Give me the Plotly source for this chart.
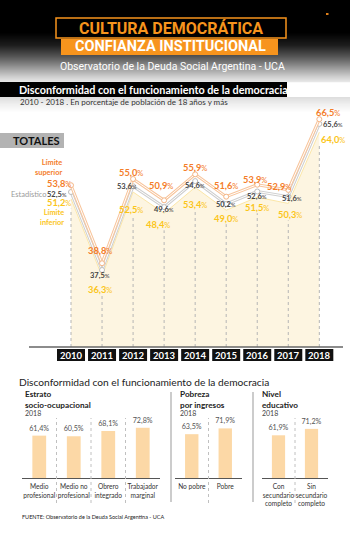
import plotly.graph_objects as go

W, H = 350, 534
def px(x): return x / W
def py(y): return 1 - y / H

# ---------------- data ----------------
years = [2010, 2011, 2012, 2013, 2014, 2015, 2016, 2017, 2018]
upper = [53.8, 38.8, 55.0, 50.9, 55.9, 51.6, 53.9, 52.9, 66.5]
central = [52.5, 37.5, 53.6, 49.6, 54.6, 50.2, 52.6, 51.6, 65.6]
lower = [51.2, 36.3, 52.5, 48.4, 53.4, 49.0, 51.5, 50.3, 64.0]

estrato_cats = ["Medio<br>profesional", "Medio no<br>profesional", "Obrero<br>integrado", "Trabajador<br>marginal"]
estrato_vals = [61.4, 60.5, 68.1, 72.8]
pobreza_cats = ["No pobre", "Pobre"]
pobreza_vals = [63.5, 71.9]
educ_cats = ["Con<br>secundario<br>completo", "Sin<br>secundario<br>completo"]
educ_vals = [61.9, 71.2]

# label offsets in pixels (layout only)
upper_shift = [(-12, 2), (-2, 13), (-2, 7), (-3, 15), (0, 7), (0, 11), (-2, 5), (-9, 3), (9, 7)]
central_shift = [(-14, -2), (-2, -5), (-6, 0), (0, -2), (0, -4), (0, -1), (0, -5), (4, -2), (14, -1)]
lower_shift = [(-12, -4), (-2, -13), (-2, -17), (-6, -11), (0, -17), (0, -8), (0, -10), (2, -11), (14, -7)]

ORANGE = "#f47d2a"
YELLOW = "#fbc51a"
DARK = "#444444"
FONT = "Lato"

# main axis mapping
X0_PIX, STEP = 71, 31.04
xr = [2010 - X0_PIX / STEP, 2010 + (W - X0_PIX) / STEP]
SLOPE = 5.2
yr = [37.5 - (347 - 270) / SLOPE, 37.5 + (270 - 100) / SLOPE]

fig = go.Figure()

fig.add_trace(go.Scatter(x=years, y=lower, mode="lines", fill="tozeroy",
                         fillcolor="#fdf5e1", line=dict(color="#fbe6a8", width=1),
                         hoverinfo="skip", showlegend=False))
fig.add_trace(go.Scatter(x=years, y=central, mode="lines", line=dict(color="#cfcfcf", width=3),
                         hoverinfo="skip", showlegend=False))
fig.add_trace(go.Scatter(x=years, y=central, mode="lines+markers", line=dict(color="white", width=1),
                         marker=dict(size=5, color="white", line=dict(color="#bdbdbd", width=1)),
                         hoverinfo="skip", showlegend=False))
fig.add_trace(go.Scatter(x=years, y=upper, mode="lines", line=dict(color="#f8c59c", width=3),
                         hoverinfo="skip", showlegend=False))
fig.add_trace(go.Scatter(x=years, y=upper, mode="lines+markers", line=dict(color="white", width=1),
                         marker=dict(size=5, color="white", line=dict(color="#f4b585", width=1)),
                         hoverinfo="skip", showlegend=False))

def pct(v, small):
    s = f"{v:.1f}".replace(".", ",")
    return f"<b>{s}</b><span style='font-size:{small}px'>%</span>"

ann = []
shapes = []

def text(x, y, t, size, color, anchor="center", family=FONT):
    ann.append(dict(x=px(x), y=py(y), xref="paper", yref="paper", showarrow=False,
                    xanchor=anchor, yanchor="middle", text=t, align=anchor if anchor != "center" else "center",
                    font=dict(family=family, size=size, color=color)))

def rect(x0, y0, x1, y1, fill, line=None, layer="above"):
    shapes.append(dict(type="rect", xref="paper", yref="paper", x0=px(x0), x1=px(x1),
                       y0=py(y1), y1=py(y0), fillcolor=fill,
                       line=line if line else dict(width=0), layer=layer))

for i, yv in enumerate(years):
    dx, dy = upper_shift[i]
    ann.append(dict(x=yv, y=upper[i], xref="x", yref="y", text=pct(upper[i], 7.5), showarrow=False,
                    xshift=dx, yshift=dy, font=dict(family=FONT, size=9.3, color=ORANGE)))
    dx, dy = central_shift[i]
    ann.append(dict(x=yv, y=central[i], xref="x", yref="y", text=pct(central[i], 6), showarrow=False,
                    xshift=dx, yshift=dy, font=dict(family=FONT, size=7.5, color=DARK)))
    dx, dy = lower_shift[i]
    ann.append(dict(x=yv, y=lower[i], xref="x", yref="y", text=pct(lower[i], 7.5), showarrow=False,
                    xshift=dx, yshift=dy, font=dict(family=FONT, size=9.3, color=YELLOW)))
    top = lower[i] - (abs(lower_shift[i][1]) + 6) / SLOPE
    shapes.append(dict(type="line", xref="x", yref="y", x0=yv, x1=yv, y0=yr[0], y1=top,
                       line=dict(color="#b5b5b5", width=1, dash="dot")))
    hw = 14 / STEP
    shapes.append(dict(type="rect", xref="x", yref="paper", x0=yv - hw, x1=yv + hw,
                       y0=py(361), y1=py(349), fillcolor="#111111", line=dict(width=0)))
    ann.append(dict(x=yv, y=py(355), xref="x", yref="paper", text=f"<b>{yv}</b>", showarrow=False,
                    font=dict(family=FONT, size=9.5, color="white")))

# ---------------- header ----------------
def gradient(stops):
    for a in range(len(stops) - 1):
        (y0, g0), (y1, g1) = stops[a], stops[a + 1]
        for yy in range(y0, y1):
            g = int(g0 + (g1 - g0) * (yy - y0) / (y1 - y0))
            rect(0, yy, W, yy + 1.2, f"rgb({g},{g},{g})", layer="below")

gradient([(0, 0), (32, 0), (45, 30), (55, 80), (62, 120), (70, 170), (76, 205), (82, 235)])
gradient([(97, 222), (104, 240), (112, 255)])

rect(326, 13, 328.5, 15, "#e0801a")
rect(56, 18, 286, 38, "#000000", dict(color="#f7941d", width=1.5))
rect(61, 39, 278, 55, "#f7941d")
text(171, 28, "<b>CULTURA DEMOCRÁTICA</b>", 16, "#f7941d", family="Roboto")
text(170, 47, "<b>CONFIANZA INSTITUCIONAL</b>", 14.5, "white", family="Roboto")
text(172, 67, "Observatorio de la Deuda Social Argentina - UCA", 10.5, "white", family="Roboto")

rect(0, 82, 287, 97, "#000000")
text(17, 89.5, "<b>Disconformidad con el funcionamiento de la democracia</b>", 10.8, "white", "left")
text(18, 102.5, "2010 - 2018 . En porcentaje de población de 18 años y más", 8, "#333333", "left")

rect(0, 133, 64, 148, "#b3b3b3")
text(62, 140.5, "<b>TOTALES</b>", 11, "#111111", "right")

text(64, 167.5, "<b>Límite<br>superior</b>", 7.4, ORANGE, "right")
text(9, 194, "Estadístico", 7.5, "#9a9a9a", "left")
text(66, 217, "<b>Límite<br>inferior</b>", 7.4, YELLOW, "right")

shapes.append(dict(type="line", xref="paper", yref="paper", x0=px(29), x1=px(343), y0=py(347), y1=py(347),
                   line=dict(color="#666666", width=1.5)))

# ---------------- bottom panels ----------------
text(17, 382, "Disconformidad con el funcionamiento de la democracia", 10.2, "#222222", "left")

panels = [
    ("x2", "y2", estrato_cats, estrato_vals, 22, 160, ["Estrato", "socio-ocupacional"], 23),
    ("x3", "y3", pobreza_cats, pobreza_vals, 175, 242, ["Pobreza", "por ingresos"], 178),
    ("x4", "y4", educ_cats, educ_vals, 262, 328, ["Nivel", "educativo"], 260),
]
BAR_RANGE = [0, 58 / 0.69]
for k, (xa, ya, cats, vals, x0, x1, head, hx) in enumerate(panels):
    fig.add_trace(go.Bar(x=list(range(len(cats))), y=vals, xaxis=xa, yaxis=ya, width=0.4,
                         marker=dict(color="#fcd8a6", line=dict(width=0)),
                         texttemplate="%{y:.1f}%", textposition="outside", cliponaxis=False,
                         constraintext="none", textfont=dict(family=FONT, size=7.2, color="#555555"),
                         hoverinfo="skip", showlegend=False))
    n = str(k + 2)
    fig.update_layout({
        "xaxis" + n: dict(domain=[px(x0), px(x1)], anchor="y" + n, range=[-0.5, len(cats) - 0.5],
                          tickmode="array", tickvals=list(range(len(cats))), ticktext=cats,
                          tickangle=0, automargin=False,
                          showline=True, linecolor="#555555", linewidth=1.2, ticks="",
                          showgrid=False, zeroline=False, ticklabelstandoff=2,
                          tickfont=dict(family=FONT, size=6.6, color="#333333")),
        "yaxis" + n: dict(domain=[py(478), py(420)], anchor="x" + n, range=BAR_RANGE,
                          visible=False, showgrid=False, automargin=False),
    })
    for j in range(len(cats) - 1):
        shapes.append(dict(type="line", xref=xa, yref="paper", x0=j + 0.5, x1=j + 0.5,
                           y0=py(503), y1=py(418), line=dict(color="#c0c0c0", width=1, dash="dot")))
    text(hx, 399, f"<b>{head[0]}<br>{head[1]}</b>", 8.2, "#222222", "left")
    text(hx, 413, "2018", 7, "#444444", "left")

for sx in (171, 253):
    shapes.append(dict(type="line", xref="paper", yref="paper", x0=px(sx), x1=px(sx),
                       y0=py(502), y1=py(392), line=dict(color="#999999", width=1)))

text(20, 517, "FUENTE: Observatorio de la Deuda Social Argentina - UCA", 5.5, "#222222", "left")

fig.update_layout(
    width=W, height=H, margin=dict(l=0, r=0, t=0, b=0, pad=0, autoexpand=False),
    paper_bgcolor="white", plot_bgcolor="rgba(0,0,0,0)",
    separators=",.",
    xaxis=dict(domain=[0, 1], range=xr, visible=False, showgrid=False, automargin=False),
    yaxis=dict(domain=[py(347), py(100)], range=yr, visible=False, showgrid=False, automargin=False),
    annotations=ann, shapes=shapes, showlegend=False,
)

fig.write_html("out.html")
